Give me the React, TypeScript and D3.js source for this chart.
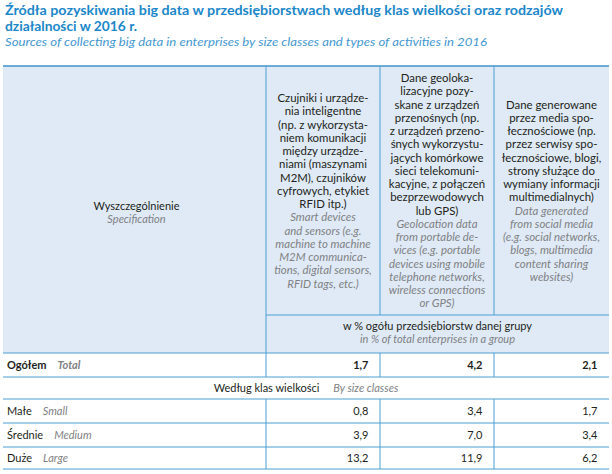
import React from "react";
import * as d3 from "d3";

const titleLines = [
  "Źródła pozyskiwania big data w przedsiębiorstwach według klas wielkości oraz rodzajów",
  "działalności w 2016 r.",
];
const subtitle =
  "Sources of collecting big data in enterprises by size classes and types of activities in 2016";

const colKeys = ["sensors", "geo", "social"];
const headerPL = [
  ["Czujniki i urządze-", "nia inteligentne", "(np. z wykorzysta-", "niem komunikacji", "między urządze-", "niami (maszynami", "M2M), czujników", "cyfrowych, etykiet", "RFID itp.)"],
  ["Dane geoloka-", "lizacyjne pozy-", "skane z urządzeń", "przenośnych (np.", "z urządzeń przeno-", "śnych wykorzystu-", "jących komórkowe", "sieci telekomuni-", "kacyjne, z połączeń", "bezprzewodowych", "lub GPS)"],
  ["Dane generowane", "przez media spo-", "łecznościowe (np.", "przez serwisy spo-", "łecznościowe, blogi,", "strony służące do", "wymiany informacji", "multimedialnych)"],
];
const headerEN = [
  ["Smart devices", "and sensors  (e.g.", "machine to machine", "M2M communica-", "tions, digital sensors,", "RFID tags, etc.)"],
  ["Geolocation data", "from portable de-", "vices (e.g. portable", "devices using mobile", "telephone networks,", "wireless connections", "or GPS)"],
  ["Data generated", "from social media", "(e.g. social networks,", "blogs, multimedia", "content sharing", "websites)"],
];

const totalLabel = ["Ogółem", "Total"];
const totalValues = [1.7, 4.2, 2.1];
const sectionLabel = ["Według klas wielkości", "By size classes"];
const sizeLabelsPL = ["Małe", "Średnie", "Duże"];
const sizeLabelsEN = ["Small", "Medium", "Large"];
const sensorsValues = [0.8, 3.9, 13.2];
const geoValues = [3.4, 7.0, 11.9];
const socialValues = [1.7, 3.4, 6.2];

const W = 612;
const H = 474;
const FONT = "Lato, 'Open Sans', sans-serif";
const BLUE = "#1c87c9";
const LINE = "#4d9fd3";
const FILL = "#dfeaf6";
const DARK = "#231f20";
const GREY = "#808184";
const FS = 11;
const HFS = 11.4;

const fmt = (v: number) => d3.format(".1f")(v).replace(".", ",");

export default function App() {
  const left = 3;
  const right = 609;
  const xEdges = [266, 380, 494, right];
  const x = d3.scaleBand<string>().domain(colKeys).range([266, right]);
  const colLeft = (i: number) => xEdges[i];
  const colRight = (i: number) => xEdges[i + 1];
  const colCenter = (i: number) => (colLeft(i) + colRight(i)) / 2;

  const top = 66;
  const unitTop = 315;
  const headBottom = 353;
  const rowKeys = ["total", "section", "small", "medium", "large"];
  const rowEdges = [353, 377, 399, 423, 447, 469];
  const y = d3.scaleOrdinal<string, number>().domain(rowKeys).range(rowEdges.slice(0, 5));
  const rowH = (k: string) => rowEdges[rowKeys.indexOf(k) + 1] - rowEdges[rowKeys.indexOf(k)];
  const rowMid = (k: string) => (y(k) as number) + rowH(k) / 2;

  const lh = 13.25;
  const headCenter = (top + unitTop) / 2 + 0.5;

  const sizeRows = ["small", "medium", "large"];
  const sizeSeries = [sensorsValues, geoValues, socialValues];
  const valX = (i: number) => colRight(i) - 11.5;

  return (
    <svg width={W} height={H} style={{ position: "absolute", left: 0, top: 0, fontFamily: FONT }}>
      <rect x={0} y={0} width={W} height={H} fill="#fff" />
      {/* Title */}
      <text x={5} y={15} fontSize={13.8} fontWeight={700} fill={BLUE} textLength={558} lengthAdjust="spacingAndGlyphs">
        {titleLines[0]}
      </text>
      <text x={5} y={31} fontSize={13.8} fontWeight={700} fill={BLUE}>
        {titleLines[1]}
      </text>
      <text x={5} y={46} fontSize={12.4} fontStyle="italic" fill={BLUE} opacity={0.85} textLength={482} lengthAdjust="spacingAndGlyphs">
        {subtitle}
      </text>

      {/* header fill */}
      <rect x={left} y={top} width={right - left} height={headBottom - top} fill={FILL} />

      {/* header column texts */}
      {colKeys.map((k, i) => {
        const lines = [...headerPL[i].map((t) => ({ t, en: false })), ...headerEN[i].map((t) => ({ t, en: true }))];
        const start = headCenter - ((lines.length - 1) * lh) / 2;
        return (
          <g key={k}>
            {lines.map((l, j) => (
              <text
                key={j}
                x={colCenter(i)}
                y={start + j * lh + 3.8}
                textAnchor="middle"
                fontSize={HFS}
                fontStyle={l.en ? "italic" : "normal"}
                fill={l.en ? GREY : DARK}
              >
                {l.t}
              </text>
            ))}
          </g>
        );
      })}

      {/* Specification */}
      <text x={(left + 266) / 2 + 2} y={210} textAnchor="middle" fontSize={FS} fill={DARK}>
        Wyszczególnienie
      </text>
      <text x={(left + 266) / 2 + 2} y={222.5} textAnchor="middle" fontSize={FS} fontStyle="italic" fill={GREY}>
        Specification
      </text>

      {/* unit row */}
      <text x={(266 + right) / 2} y={330} textAnchor="middle" fontSize={FS} fill={DARK}>
        w % ogółu przedsiębiorstw danej grupy
      </text>
      <text x={(266 + right) / 2} y={343} textAnchor="middle" fontSize={FS} fontStyle="italic" fill={GREY}>
        in % of total enterprises in a group
      </text>

      {/* Total row */}
      <text x={7} y={rowMid("total") + 4} fontSize={FS} fill={DARK}>
        <tspan fontWeight={700}>{totalLabel[0]}</tspan>
        <tspan dx={11} fontWeight={700} fontStyle="italic" fill={GREY}>
          {totalLabel[1]}
        </tspan>
      </text>
      {totalValues.map((v, i) => (
        <text key={i} x={valX(i)} y={rowMid("total") + 4} textAnchor="end" fontSize={FS} fontWeight={700} fill={DARK}>
          {fmt(v)}
        </text>
      ))}

      {/* section row */}
      <text x={(left + right) / 2} y={rowMid("section") + 4} textAnchor="middle" fontSize={FS} fill={DARK}>
        <tspan>{sectionLabel[0]}</tspan>
        <tspan dx={14} fontStyle="italic" fill={GREY}>
          {sectionLabel[1]}
        </tspan>
      </text>

      {/* size rows */}
      {sizeRows.map((k, r) => (
        <g key={k}>
          <text x={7} y={rowMid(k) + 4} fontSize={FS} fill={DARK}>
            <tspan>{sizeLabelsPL[r]}</tspan>
            <tspan dx={11} fontStyle="italic" fill={GREY}>
              {sizeLabelsEN[r]}
            </tspan>
          </text>
          {sizeSeries.map((s, i) => (
            <text key={i} x={valX(i)} y={rowMid(k) + 4} textAnchor="end" fontSize={FS} fill={DARK}>
              {fmt(s[r])}
            </text>
          ))}
        </g>
      ))}

      {/* lines */}
      <g stroke={LINE} strokeWidth={1}>
        <line x1={left} x2={right} y1={top} y2={top} strokeWidth={1.6} stroke="#3f93c9" />
        <line x1={x("sensors") as number} x2={right} y1={unitTop} y2={unitTop} />
        {rowEdges.map((e, i) => (
          <line key={i} x1={left} x2={right} y1={e} y2={e} />
        ))}
        <line x1={266} x2={266} y1={top} y2={rowEdges[1]} />
        <line x1={266} x2={266} y1={rowEdges[2]} y2={rowEdges[5]} />
        {[1, 2].map((i) => (
          <g key={i}>
            <line x1={xEdges[i]} x2={xEdges[i]} y1={top} y2={unitTop} />
            <line x1={xEdges[i]} x2={xEdges[i]} y1={rowEdges[0]} y2={rowEdges[1]} />
            <line x1={xEdges[i]} x2={xEdges[i]} y1={rowEdges[2]} y2={rowEdges[5]} />
          </g>
        ))}
      </g>
    </svg>
  );
}
